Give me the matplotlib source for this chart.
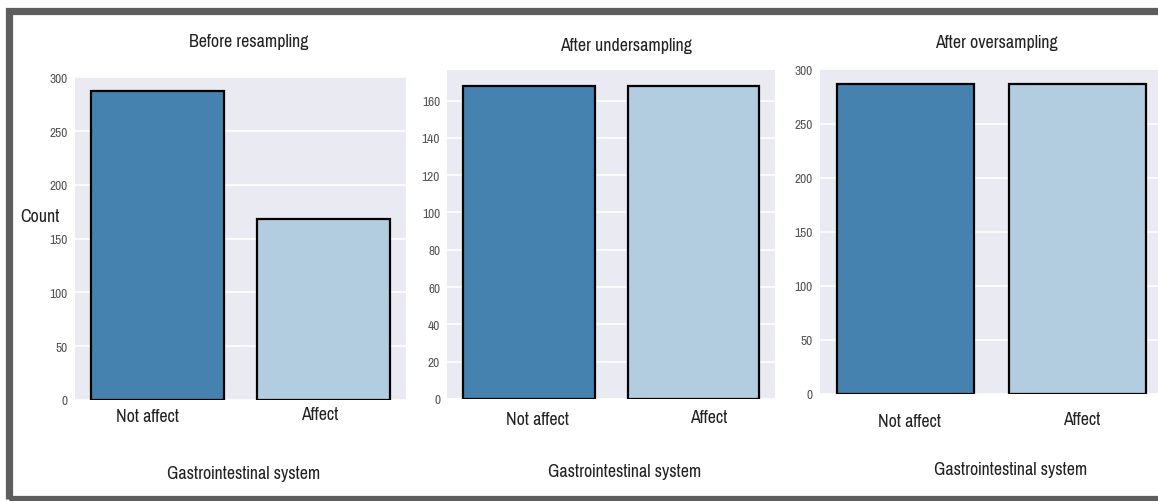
import matplotlib
matplotlib.use("Agg")
import matplotlib.pyplot as plt
import matplotlib.transforms as mtransforms
from matplotlib.patches import Rectangle
import seaborn as sns

# ---- data ----
categories = ["Not affect", "Affect"]
before_counts = [287, 168]
under_counts = [168, 168]
over_counts = [287, 287]
titles = ["Before resampling", "After undersampling", "After oversampling"]
xlabel_text = "Gastrointestinal system"
ylabel_text = "Count"
bar_colors = ["#4682b0", "#b3cde0"]

sns.set_style("darkgrid")
plt.rcParams['font.family'] = ['Pragati Narrow', 'Liberation Sans', 'DejaVu Sans']

W, H = 1158, 502
fig = plt.figure(figsize=(W / 100, H / 100), dpi=100)
fig.patch.set_facecolor("white")

# axes boxes in pixels: left, right, top, bottom
boxes = [(74.5, 406.5, 77, 401), (447, 775.5, 71, 400), (819.5, 1163.5, 69, 395)]
title_pos = [(249, 42), (626, 46), (996, 43)]
xlabel_pos = [(244, 474), (625, 472), (1011, 470)]
tick_centers = [[(147, 417), (320, 415)], [(537, 420), (709, 418)], [(910, 422), (1082, 420)]]
data_sets = [before_counts, under_counts, over_counts]
yticks_sets = [[0, 50, 100, 150, 200, 250, 300],
               [0, 20, 40, 60, 80, 100, 120, 140, 160],
               [0, 50, 100, 150, 200, 250, 300]]

for i, (box, vals) in enumerate(zip(boxes, data_sets)):
    l, r, t, b = box
    ax = fig.add_axes([l / W, (H - b) / H, (r - l) / W, (b - t) / H])
    ax.set_facecolor("#eaeaf2")
    ax.grid(True, axis="y", color="white", linewidth=1.2)
    ax.grid(False, axis="x")
    ax.bar(range(len(categories)), vals, width=0.8, color=bar_colors,
           edgecolor="black", linewidth=1.6, zorder=3)
    ax.set_xlim(-0.5, 1.5)
    ax.set_ylim(0, max(vals) * 1.05)
    ax.set_yticks(yticks_sets[i])
    ax.tick_params(axis="y", labelsize=10.5, labelcolor="#555555", length=0, pad=5)
    ax.set_xticks(range(len(categories)))
    ax.set_xticklabels(categories, fontsize=14, color="#222222")
    ax.tick_params(axis="x", length=0, pad=0)
    for spine in ax.spines.values():
        spine.set_visible(False)
    # place x tick labels at observed positions via offsets
    for j, lab in enumerate(ax.get_xticklabels()):
        cx, cy = tick_centers[i][j]
        bar_cx = l + (j + 0.5) * (r - l) / 2
        dx = (cx - bar_cx) / 100
        lab.set_verticalalignment("center")
        dy = -(cy - b) / 100
        lab.set_transform(ax.get_xaxis_transform() +
                          mtransforms.ScaledTranslation(dx, dy, fig.dpi_scale_trans))
        lab.set_y(0)
    # title
    tx, ty = title_pos[i]
    ax.text((tx - l) / (r - l), (b - ty) / (b - t), titles[i], transform=ax.transAxes,
            ha="center", va="center", fontsize=14, color="#222222")
    # xlabel
    xx, xy = xlabel_pos[i]
    ax.set_xlabel(xlabel_text, fontsize=14, color="#222222", va="center")
    ax.xaxis.set_label_coords((xx - l) / (r - l), (b - xy) / (b - t))
    if i == 0:
        ax.set_ylabel(ylabel_text, fontsize=14, color="#222222", rotation=0,
                      ha="center", va="center")
        ax.yaxis.set_label_coords((40 - l) / (r - l), (b - 217) / (b - t))
    else:
        ax.set_ylabel("")

# outer frame
frame = Rectangle((9 / W, 1 - 499.5 / H), 1.2, (499.5 - 11.5) / H, transform=fig.transFigure,
                  fill=False, edgecolor="#5e5e5e", linewidth=5.2, zorder=10)
fig.patches.append(frame)

fig.savefig("out.png", dpi=100, facecolor="white")
